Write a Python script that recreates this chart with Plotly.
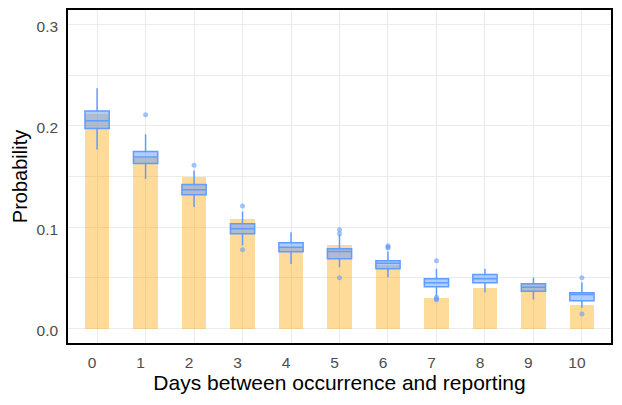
import plotly.graph_objects as go

days = [0, 1, 2, 3, 4, 5, 6, 7, 8, 9, 10]
bar_prob = [0.2115, 0.1687, 0.150, 0.1077, 0.0794, 0.082, 0.063, 0.0306, 0.0405, 0.0445, 0.0237]

box_q1 = [0.1973, 0.1627, 0.132, 0.0936, 0.0758, 0.0689, 0.059, 0.0412, 0.0452, 0.0369, 0.0274]
box_median = [0.205, 0.1693, 0.137, 0.0985, 0.0803, 0.0761, 0.0645, 0.0452, 0.0491, 0.0408, 0.0336]
box_q3 = [0.2146, 0.1746, 0.142, 0.1034, 0.0847, 0.0788, 0.0669, 0.0491, 0.0534, 0.0442, 0.0353]
box_low = [0.1766, 0.1475, 0.120, 0.082, 0.0636, 0.0606, 0.0507, 0.032, 0.0359, 0.0287, 0.0205]
box_high = [0.237, 0.1917, 0.156, 0.1156, 0.0949, 0.0926, 0.076, 0.059, 0.059, 0.0504, 0.0458]

outlier_day = [1, 2, 3, 3, 5, 5, 5, 6, 6, 6, 7, 7, 7, 7, 10, 10]
outlier_val = [0.211, 0.161, 0.121, 0.0778, 0.0975, 0.0936, 0.0501, 0.0817, 0.0804, 0.0794,
               0.0669, 0.031, 0.0295, 0.0285, 0.0501, 0.0145]

blue = "rgb(97,156,255)"

fig = go.Figure()
fig.add_trace(go.Bar(
    x=days, y=bar_prob, width=0.5,
    marker=dict(color="rgba(255,165,0,0.4)", line=dict(width=0)),
    showlegend=False,
))
fig.add_trace(go.Box(
    x=days, q1=box_q1, median=box_median, q3=box_q3,
    lowerfence=box_low, upperfence=box_high,
    width=0.5, whiskerwidth=0, boxpoints=False,
    fillcolor="rgba(97,156,255,0.5)",
    line=dict(color=blue, width=1.5),
    showlegend=False,
))
fig.add_trace(go.Scatter(
    x=outlier_day, y=outlier_val, mode="markers",
    marker=dict(color="rgba(97,156,255,0.6)", size=5, line=dict(width=0)),
    showlegend=False,
))

fig.update_layout(
    width=622, height=405,
    margin=dict(l=68, r=11, t=10, b=62, autoexpand=False),
    paper_bgcolor="white", plot_bgcolor="white",
    font=dict(family="Liberation Sans, Arial, sans-serif"),
    bargap=0,
)
fig.update_xaxes(
    automargin=False,
    range=[-0.6, 10.6], tickmode="array", tickvals=days,
    ticktext=[str(d) for d in days],
    showgrid=True, gridcolor="#EBEBEB", gridwidth=1.4,
    zeroline=False,
    showline=True, mirror=True, linecolor="black", linewidth=1.6,
    ticks="outside", ticklen=5, tickcolor="rgba(0,0,0,0)",
    ticklabelshift=-5,
    tickfont=dict(size=15.5, color="#4D4D4D"),
    title=dict(text="Days between occurrence and reporting", font=dict(size=21, color="black"), standoff=4),
)
fig.update_yaxes(
    automargin=False,
    range=[-0.0142, 0.3142], tickmode="array",
    tickvals=[0, 0.1, 0.2, 0.3], ticktext=["0.0", "0.1", "0.2", "0.3"],
    showgrid=True, gridcolor="#EBEBEB", gridwidth=1.4,
    minor=dict(tickmode="array", tickvals=[0.05, 0.15, 0.25], showgrid=True, gridcolor="#EBEBEB", gridwidth=0.8, ticks=""),
    zeroline=False,
    showline=True, mirror=True, linecolor="black", linewidth=1.6,
    ticks="outside", ticklen=5, tickcolor="rgba(0,0,0,0)",
    ticklabelshift=2,
    tickfont=dict(size=15.5, color="#4D4D4D"),
    title=dict(text="Probability", font=dict(size=20, color="black"), standoff=4),
)

fig.write_html("out.html", config={"displayModeBar": False},
               post_script="document.body.style.margin='0';")
